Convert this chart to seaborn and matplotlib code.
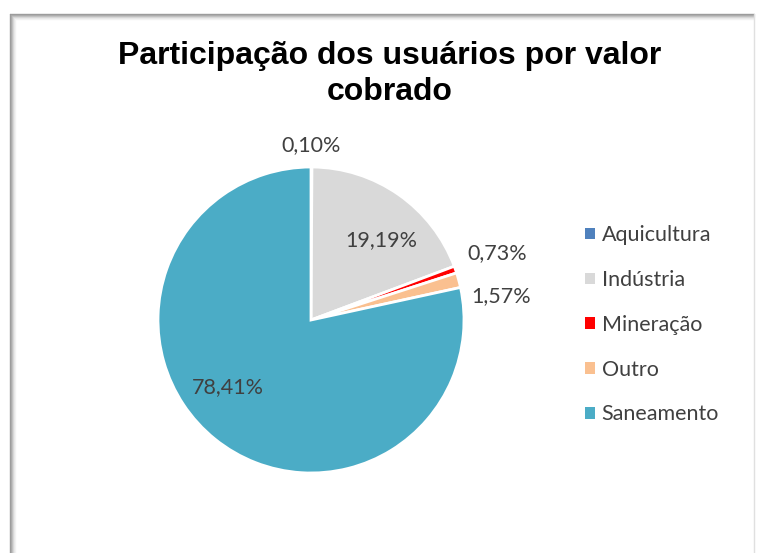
import matplotlib
matplotlib.use('Agg')
import matplotlib.pyplot as plt
import seaborn as sns
from matplotlib.patches import Patch
from matplotlib.lines import Line2D

categories = ['Aquicultura', 'Indústria', 'Mineração', 'Outro', 'Saneamento']
shares = [0.10, 19.19, 0.73, 1.57, 78.41]
pct_labels = ['0,10%', '19,19%', '0,73%', '1,57%', '78,41%']
title = 'Participação dos usuários por valor\ncobrado'

colors = ['#4F81BD', '#D9D9D9', '#FF0000', '#FAC090', '#4BACC6']
# data label placement as Excel laid it out (in pie radius units)
label_pos = [(0.0, 1.14), (0.457, 0.523), (1.22, 0.44), (1.24, 0.157), (-0.542, -0.438)]

sns.set_style('white')
plt.rcParams['font.family'] = ['Lato', 'DejaVu Sans']

W, H = 757, 553
fig = plt.figure(figsize=(W / 100, H / 100), dpi=100)

# chart area frame with soft shadow on left/top
for i, g in enumerate(['#9a9a9a', '#a8a8a8', '#bdbdbd', '#d4d4d4', '#e6e6e6', '#f2f2f2']):
    fig.add_artist(Line2D([(10 + i) / W, (10 + i) / W], [0, 1 - (14 + i) / H],
                          transform=fig.transFigure, color=g, lw=1))
    fig.add_artist(Line2D([(10 + i) / W, 1 - 3 / W], [1 - (14 + i) / H, 1 - (14 + i) / H],
                          transform=fig.transFigure, color=g, lw=1))
fig.add_artist(Line2D([1 - 3 / W, 1 - 3 / W], [0, 1 - 14 / H], transform=fig.transFigure,
                      color='#e0e0e0', lw=1))

cx, cy, r = 311, 553 - 320, 153
ax = fig.add_axes([(cx - r) / W, (cy - r) / H, 2 * r / W, 2 * r / H])

wedges, _ = ax.pie(shares, colors=colors, startangle=90, counterclock=False, radius=1,
                   wedgeprops=dict(edgecolor='white', linewidth=2))
ax.set_xlim(-1, 1)
ax.set_ylim(-1, 1)
ax.axis('off')

for lab, (x, y) in zip(pct_labels, label_pos):
    ax.text(x, y, lab, ha='center', va='center', fontsize=15.5, color='#404040', clip_on=False)

fig.text(390 / W, 1 - 74 / H, title, ha='center', va='center', fontsize=23,
         fontweight='bold', family='Liberation Sans', color='black', linespacing=1.25)

handles = [Patch(facecolor=c, edgecolor='none') for c in colors]
fig.legend(handles, categories, loc='upper left', bbox_to_anchor=(566 / W, 1 - 206 / H),
           frameon=False, fontsize=15.5, handlelength=0.45, handleheight=0.45,
           handletextpad=0.3, labelspacing=1.15, labelcolor='#404040')

fig.savefig('out.png', dpi=100, facecolor='white')
